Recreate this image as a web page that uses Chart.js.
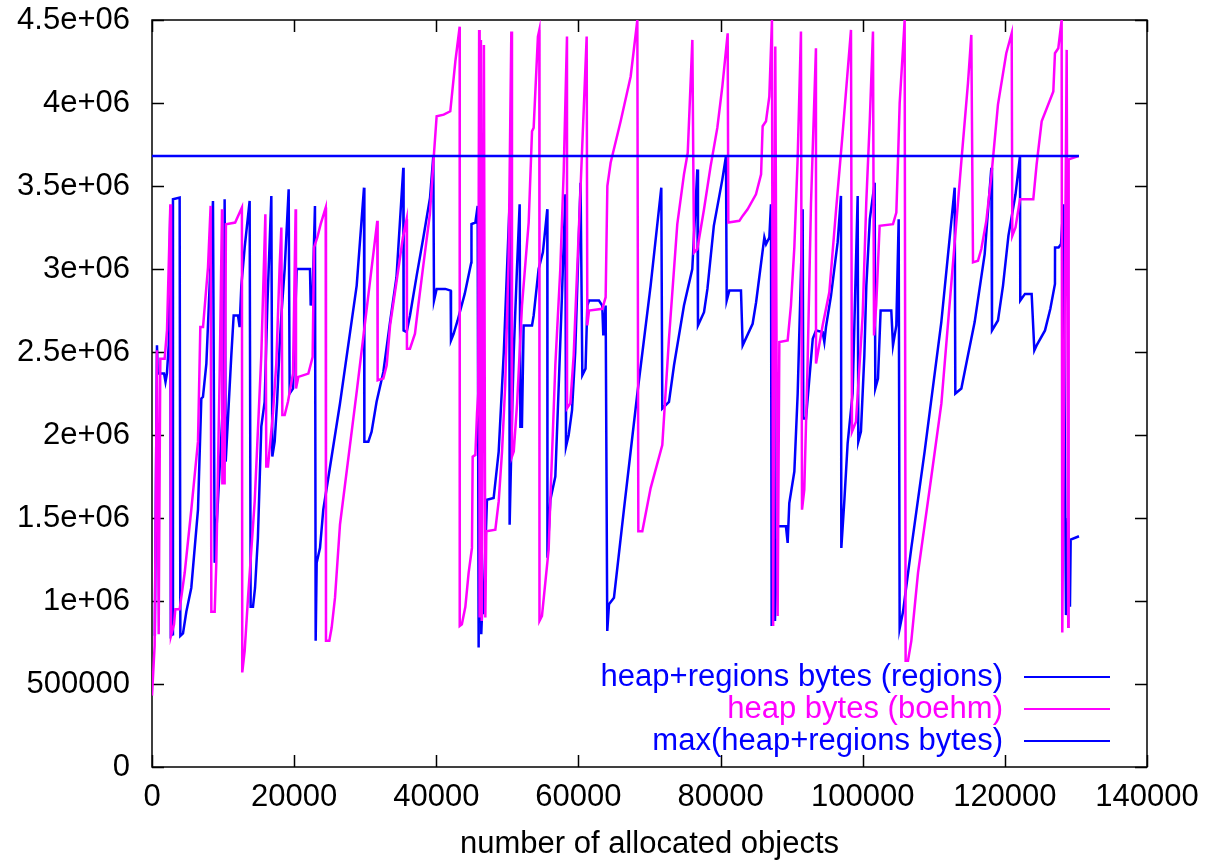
<!DOCTYPE html>
<html>
<head>
<meta charset="utf-8">
<script src="https://cdn.jsdelivr.net/npm/chart.js@4.4.0/dist/chart.umd.min.js"></script>
<style>
  html, body { margin: 0; padding: 0; background: #fff; }
  #wrap { width: 1207px; height: 861px; }
</style>
</head>
<body>
<div id="wrap"><canvas id="chart" width="1207" height="861"></canvas></div>
<script>
// heap+regions bytes (regions)
const regionsX = [400, 700, 800, 1700, 1900, 2100, 2350, 2580, 2650, 2900, 2950, 3890, 3990, 4360, 4830, 5530, 6470, 6940, 7170, 7650, 8110, 8580, 8820, 9290, 9750, 10130, 10220, 10370, 10690, 11160, 11490, 12100, 12330, 12570, 13040, 13740, 13880, 14210, 14500, 14900, 15380, 15850, 16230, 16790, 16930, 17260, 17600, 17960, 18200, 18670, 19230, 19370, 19840, 20100, 20360, 22230, 22330, 22600, 22930, 23030, 23170, 23640, 24100, 26450, 28800, 29830, 29880, 30440, 30900, 31600, 32550, 33490, 34400, 35360, 35400, 35830, 36300, 37240, 38180, 39120, 39580, 39680, 40050, 41270, 42020, 42070, 42440, 43000, 44000, 44930, 44950, 45500, 45820, 45960, 46150, 46330, 46500, 46600, 47130, 48070, 48780, 49500, 50280, 50320, 50650, 50900, 51350, 51730, 51830, 52050, 52290, 53470, 53700, 54400, 55000, 55620, 55640, 56050, 56750, 57230, 57650, 58160, 58250, 58630, 59100, 59550, 60300, 60550, 61000, 61250, 61490, 62890, 63350, 63500, 63830, 64060, 64300, 65000, 66400, 68290, 70160, 71660, 71800, 72740, 73450, 74850, 76020, 76730, 76820, 77670, 78150, 79050, 80250, 80760, 80860, 81230, 82870, 83110, 84510, 85000, 86160, 86400, 86860, 87090, 87190, 87500, 87650, 88030, 89200, 89440, 89670, 90380, 90850, 91550, 91640, 92020, 92970, 93430, 94360, 94600, 94830, 95540, 96470, 96940, 96990, 97410, 97880, 98580, 99290, 99380, 99750, 100230, 100510, 101000, 101680, 101770, 102150, 102520, 104020, 104260, 104730, 105060, 105200, 105670, 106840, 108710, 111060, 112940, 113030, 113880, 114810, 115750, 117160, 118100, 118190, 119030, 119740, 120500, 121500, 122130, 122170, 122830, 123770, 124150, 124470, 125650, 126400, 127050, 127060, 127560, 127900, 128230, 128600, 128880, 129160, 129260, 130430];
const regionsY = [790000, 2540000, 2370000, 2370000, 2320000, 2370000, 2540000, 3380000, 790000, 800000, 3420000, 3430000, 790000, 805000, 935000, 1080000, 1550000, 2220000, 2230000, 2430000, 2900000, 3410000, 1230000, 1610000, 1990000, 2310000, 3420000, 1840000, 2100000, 2480000, 2720000, 2720000, 2650000, 2900000, 3130000, 3410000, 965000, 965000, 1080000, 1380000, 2050000, 2200000, 2780000, 3440000, 1870000, 1960000, 2200000, 2540000, 2720000, 3000000, 3480000, 2250000, 2280000, 2650000, 3000000, 3000000, 2780000, 2850000, 3380000, 760000, 1230000, 1320000, 1550000, 2190000, 2900000, 3490000, 1960000, 1960000, 2020000, 2200000, 2380000, 2680000, 2950000, 3610000, 2630000, 2620000, 2720000, 2960000, 3190000, 3430000, 3680000, 2810000, 2880000, 2880000, 2870000, 2570000, 2610000, 2690000, 2850000, 3040000, 3270000, 3280000, 3380000, 720000, 3300000, 800000, 1000000, 920000, 1610000, 1620000, 1900000, 2500000, 3360000, 1460000, 2100000, 2500000, 3000000, 3390000, 2050000, 2050000, 2660000, 2660000, 2720000, 3000000, 3100000, 3360000, 1260000, 1610000, 1750000, 2300000, 2800000, 3450000, 1930000, 2000000, 2150000, 2500000, 3520000, 2360000, 2400000, 2780000, 2810000, 2810000, 2780000, 2600000, 2780000, 820000, 980000, 1020000, 1550000, 2250000, 2900000, 3490000, 2160000, 2200000, 2420000, 2780000, 3000000, 3600000, 2660000, 2740000, 2880000, 3260000, 3540000, 3680000, 2810000, 2870000, 2870000, 2540000, 2670000, 2800000, 3190000, 3150000, 3190000, 3390000, 850000, 3380000, 880000, 1450000, 1450000, 1350000, 1590000, 1780000, 2250000, 3360000, 2100000, 2100000, 2580000, 2630000, 2620000, 2560000, 2650000, 2840000, 3160000, 3440000, 1320000, 1600000, 1950000, 2250000, 3440000, 1960000, 2020000, 2480000, 2900000, 3300000, 3520000, 2280000, 2340000, 2750000, 2750000, 2540000, 2660000, 3300000, 835000, 935000, 1320000, 1900000, 2680000, 3490000, 2250000, 2280000, 2480000, 2680000, 3090000, 3610000, 2630000, 2690000, 2900000, 3200000, 3450000, 3680000, 2810000, 2850000, 2850000, 2510000, 2540000, 2630000, 2760000, 2910000, 3130000, 3130000, 3150000, 3390000, 915000, 1500000, 965000, 1370000, 1390000];

// heap bytes (boehm)
const boehmX = [0, 370, 700, 940, 1170, 1780, 2110, 2580, 2670, 3100, 3280, 3890, 4600, 5530, 6470, 6800, 7180, 7880, 8250, 8350, 8820, 9050, 9520, 9850, 9900, 10220, 10400, 11700, 12650, 12700, 13040, 13510, 14450, 15380, 15950, 16080, 16320, 17020, 17490, 17960, 18200, 18340, 18670, 19130, 19840, 20210, 20260, 20590, 22000, 22600, 22800, 23260, 23730, 24440, 24480, 24950, 25280, 25750, 26450, 28800, 31700, 31750, 32550, 33020, 33500, 34430, 35300, 35830, 35870, 36300, 37000, 37470, 38170, 39100, 39650, 40050, 41040, 41970, 42680, 43290, 43300, 43600, 44090, 44550, 45020, 45120, 45500, 45730, 45900, 46030, 46100, 46280, 46400, 46700, 46900, 47040, 48310, 48780, 49250, 49700, 50180, 50560, 50650, 50900, 51370, 52060, 53000, 53470, 53700, 54300, 54500, 54520, 54870, 55340, 55810, 56050, 56750, 57450, 57930, 58390, 58400, 58860, 59330, 60310, 61160, 61250, 61490, 63360, 63830, 64070, 64530, 65940, 67350, 68290, 68430, 68990, 70160, 71800, 72740, 73910, 74850, 75380, 76030, 76260, 76730, 77670, 78600, 79540, 80250, 81000, 81090, 82640, 83100, 83800, 84980, 85700, 85920, 86390, 86860, 87230, 87400, 87700, 88030, 88270, 89440, 89900, 90380, 90850, 91310, 91460, 91780, 92250, 92720, 93420, 93430, 94360, 95300, 96240, 97180, 98350, 98490, 99050, 99990, 100500, 101000, 101445, 101590, 101900, 102380, 104260, 104730, 104960, 105200, 105670, 105900, 106040, 106370, 106840, 107780, 109660, 111070, 112480, 113880, 114810, 115280, 115520, 116220, 116690, 117390, 118100, 119030, 120200, 120960, 121050, 121500, 122130, 124000, 124470, 125180, 126820, 127050, 127520, 127990, 128080, 128700, 128920, 128980, 130340];
const boehmY = [430000, 730000, 2510000, 800000, 2460000, 2460000, 2630000, 3390000, 790000, 860000, 950000, 950000, 1170000, 1550000, 1960000, 2650000, 2650000, 3010000, 3380000, 935000, 935000, 1230000, 2370000, 3360000, 1710000, 1710000, 3270000, 3280000, 3370000, 570000, 700000, 1020000, 1600000, 2480000, 3330000, 1810000, 1810000, 2130000, 2430000, 3020000, 3250000, 2120000, 2120000, 2200000, 2370000, 3360000, 2280000, 2350000, 2370000, 2470000, 3130000, 3190000, 3270000, 3370000, 760000, 760000, 840000, 1020000, 1460000, 2260000, 3290000, 2330000, 2340000, 2420000, 2660000, 2930000, 3190000, 3300000, 2520000, 2520000, 2610000, 2780000, 3020000, 3330000, 3680000, 3920000, 3930000, 3950000, 4250000, 4460000, 850000, 860000, 965000, 1170000, 1320000, 1870000, 1880000, 2130000, 2250000, 4440000, 900000, 4380000, 880000, 4350000, 900000, 1420000, 1430000, 1600000, 1900000, 2300000, 3070000, 4430000, 1870000, 1900000, 2190000, 2780000, 3280000, 3830000, 3850000, 4400000, 4440000, 880000, 910000, 1110000, 1310000, 1610000, 2420000, 3000000, 3590000, 4400000, 2160000, 2190000, 2480000, 3500000, 4400000, 2660000, 2750000, 2760000, 2830000, 3500000, 3640000, 3890000, 4160000, 4500000, 1420000, 1420000, 1680000, 1940000, 2580000, 3270000, 3570000, 3700000, 4380000, 3100000, 3120000, 3360000, 3620000, 3850000, 4100000, 4420000, 3280000, 3290000, 3320000, 3360000, 3450000, 3570000, 3860000, 3890000, 4040000, 4500000, 850000, 4340000, 910000, 2560000, 2570000, 2780000, 3130000, 3670000, 4430000, 1550000, 1670000, 2440000, 3390000, 4330000, 2430000, 2660000, 2860000, 3350000, 3820000, 4440000, 2020000, 2080000, 2720000, 3400000, 3900000, 4430000, 2600000, 2780000, 3260000, 3270000, 3340000, 3650000, 4000000, 4330000, 4500000, 640000, 640000, 760000, 1170000, 1750000, 2190000, 2920000, 3650000, 4120000, 4410000, 3040000, 3050000, 3120000, 3290000, 3560000, 3990000, 4300000, 4420000, 3200000, 3250000, 3420000, 3420000, 3630000, 3890000, 4070000, 4300000, 4330000, 4500000, 810000, 4320000, 845000, 3660000, 3680000];

// max(heap+regions bytes)
const maxX = [0, 130430];
const maxY = [3680000, 3680000];

const seriesLabels = ['heap+regions bytes (regions)', 'heap bytes (boehm)', 'max(heap+regions bytes)'];
const seriesColors = ['#0000ff', '#ff00ff', '#0000ff'];
const xTicks = [0, 20000, 40000, 60000, 80000, 100000, 120000, 140000];
const yTicks = [0, 500000, 1000000, 1500000, 2000000, 2500000, 3000000, 3500000, 4000000, 4500000];

const FONT = "'Liberation Sans', Arial, Helvetica, sans-serif";

function pts(xs, ys) {
  return xs.map((x, i) => ({ x: x, y: ys[i] }));
}

function fmtY(v) {
  if (v < 1000000) return String(v);
  return (v / 1000000) + 'e+06';
}

// gnuplot style frame, mirrored inward ticks and right-aligned key
const gnuplotFrame = {
  id: 'gnuplotFrame',
  beforeDatasetsDraw(chart) {
    const { ctx, chartArea: a, scales: { x, y } } = chart;
    ctx.save();
    ctx.strokeStyle = '#000';
    ctx.lineWidth = 1.5;
    ctx.beginPath();
    yTicks.forEach(v => {
      const py = Math.round(y.getPixelForValue(v)) + 0.5;
      ctx.moveTo(a.left, py); ctx.lineTo(a.left + 12, py);
      ctx.moveTo(a.right, py); ctx.lineTo(a.right - 12, py);
    });
    xTicks.forEach(v => {
      const px = Math.round(x.getPixelForValue(v)) + 0.5;
      ctx.moveTo(px, a.bottom); ctx.lineTo(px, a.bottom - 12);
      ctx.moveTo(px, a.top); ctx.lineTo(px, a.top + 12);
    });
    ctx.stroke();
    ctx.strokeRect(a.left, a.top, a.right - a.left, a.bottom - a.top);
    ctx.restore();
  },
  afterDatasetsDraw(chart) {
    const { ctx } = chart;
    ctx.save();
    ctx.font = '31px ' + FONT;
    ctx.textAlign = 'right';
    ctx.textBaseline = 'middle';
    const rowY = [677, 709, 741];
    seriesLabels.forEach((lab, i) => {
      ctx.fillStyle = seriesColors[i];
      ctx.fillText(lab, 1003, rowY[i]);
      ctx.strokeStyle = seriesColors[i];
      ctx.lineWidth = 2;
      ctx.beginPath();
      ctx.moveTo(1024, rowY[i]);
      ctx.lineTo(1110, rowY[i]);
      ctx.stroke();
    });
    ctx.restore();
  }
};

new Chart(document.getElementById('chart'), {
  type: 'scatter',
  data: {
    datasets: [
      { label: seriesLabels[0], data: pts(regionsX, regionsY), borderColor: seriesColors[0], order: 3 },
      { label: seriesLabels[1], data: pts(boehmX, boehmY), borderColor: seriesColors[1], order: 2 },
      { label: seriesLabels[2], data: pts(maxX, maxY), borderColor: seriesColors[2], order: 1 }
    ]
  },
  options: {
    responsive: false,
    animation: false,
    devicePixelRatio: 1,
    showLine: true,
    datasets: {
      scatter: { showLine: true, pointRadius: 0, borderWidth: 2.5, fill: false, tension: 0 }
    },
    layout: { autoPadding: false, padding: { top: 20, right: 60, left: 0, bottom: 0 } },
    plugins: {
      legend: { display: false },
      tooltip: { enabled: false }
    },
    scales: {
      x: {
        type: 'linear',
        min: 0,
        max: 140000,
        afterFit: s => { s.height = 94; s.paddingLeft = 0; s.paddingRight = 0; },
        afterBuildTicks: s => { s.ticks = xTicks.map(v => ({ value: v })); },
        grid: { display: false, drawTicks: false },
        border: { display: false },
        ticks: {
          color: '#000',
          padding: 12,
          maxRotation: 0,
          autoSkip: false,
          font: { family: FONT, size: 31 },
          callback: v => String(v)
        },
        title: {
          display: true,
          text: 'number of allocated objects',
          color: '#000',
          font: { family: FONT, size: 31, lineHeight: 1 },
          padding: { top: 0, bottom: 1 }
        }
      },
      y: {
        type: 'linear',
        min: 0,
        max: 4500000,
        afterFit: s => { s.width = 152; s.paddingTop = 0; s.paddingBottom = 0; },
        afterBuildTicks: s => { s.ticks = yTicks.map(v => ({ value: v })); },
        grid: { display: false, drawTicks: false },
        border: { display: false },
        ticks: {
          color: '#000',
          padding: 22,
          autoSkip: false,
          font: { family: FONT, size: 31 },
          callback: v => fmtY(v)
        }
      }
    }
  },
  plugins: [gnuplotFrame]
});
</script>
</body>
</html>
